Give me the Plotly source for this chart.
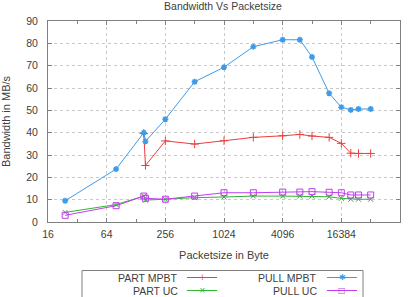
import plotly.graph_objects as go

sizes = [24, 80, 154, 160, 256, 512, 1024, 2048, 4096, 6144, 8192, 12288, 16384, 20480, 24576, 32768]
part_mpbt_x = [154, 160, 256, 512, 1024, 2048, 4096, 6144, 8192, 12288, 16384, 20480, 24576, 32768]
part_mpbt = [39.6, 25.3, 36.3, 34.9, 36.4, 37.9, 38.6, 39.2, 38.5, 37.9, 35.2, 30.8, 30.7, 30.7]
pull_mpbt = [9.5, 23.7, 40.0, 36.1, 46.0, 62.8, 69.3, 78.5, 81.6, 81.6, 73.9, 57.6, 51.4, 50.2, 50.6, 50.6]
part_uc = [4.3, 7.8, 11.6, 9.8, 10.2, 10.9, 11.2, 11.6, 11.6, 11.6, 11.6, 11.3, 10.6, 10.2, 10.2, 10.2]
pull_uc = [3.0, 7.3, 11.6, 10.6, 10.2, 11.6, 13.1, 13.1, 13.4, 13.4, 13.6, 13.3, 13.1, 12.1, 12.1, 12.1]

series_names = ["PART MPBT", "PULL MPBT", "PART UC", "PULL UC"]

x_ticks = [16, 64, 256, 1024, 4096, 16384, 65536]
x_minor = [32, 128, 512, 2048, 8192, 32768]
y_ticks = [0, 10, 20, 30, 40, 50, 60, 70, 80, 90]

RED = "#f03c3c"
GREEN = "#2fb52f"
BLUE = "#3d9be9"
MAGENTA = "#c23cf0"
FONT = "Liberation Sans, Arial, sans-serif"
TXT = "#404040"

W, H = 413, 297
ML, MR, MT, MB = 48, 13, 21, 75
PW, PH = W - ML - MR, H - MT - MB


def px(x):
    return (x - ML) / PW


def py(y):
    return (H - MB - y) / PH


styles = {
    "PART MPBT": dict(color=RED, symbol="cross-thin", size=6, lw=1, glyph="+"),
    "PULL MPBT": dict(color=BLUE, symbol="asterisk", size=5, lw=1.5, glyph="✱"),
    "PART UC": dict(color=GREEN, symbol="x-thin", size=5, lw=1, glyph="×"),
    "PULL UC": dict(color=MAGENTA, symbol="square-open", size=6, lw=1, glyph="□"),
}
data = {
    "PART MPBT": (part_mpbt_x, part_mpbt),
    "PULL MPBT": (sizes, pull_mpbt),
    "PART UC": (sizes, part_uc),
    "PULL UC": (sizes, pull_uc),
}

fig = go.Figure()
for name in series_names:
    s = styles[name]
    xs, ys = data[name]
    fig.add_trace(go.Scatter(x=xs, y=ys, name=name, mode="lines+markers", showlegend=False,
                             line=dict(color=s["color"], width=1),
                             marker=dict(symbol=s["symbol"], size=s["size"],
                                         line=dict(color=s["color"], width=s["lw"]))))

axis_common = dict(showline=True, linecolor="#808080", linewidth=1, mirror="ticks",
                   ticks="inside", ticklen=4, tickcolor="#808080",
                   showgrid=True, gridcolor="#c8c8c8", griddash="dot", gridwidth=1,
                   zeroline=False, tickfont=dict(family=FONT, size=10.5, color=TXT))

fig.update_xaxes(type="log", range=[1.20412, 4.81648], tickvals=x_ticks,
                 ticktext=[str(v) for v in x_ticks], ticklabelstandoff=2,
                 minor=dict(tickvals=x_minor, ticks="inside", ticklen=3, tickcolor="#808080", showgrid=False),
                 title=dict(text="Packetsize in Byte", font=dict(family=FONT, size=11, color=TXT), standoff=12),
                 **axis_common)
fig.update_yaxes(range=[0, 90], tickvals=y_ticks, ticklabelstandoff=7,
                 title=dict(text="Bandwidth in MB/s", font=dict(family=FONT, size=11, color=TXT), standoff=14),
                 **axis_common)

# gnuplot-style key: label, then line sample with marker
shapes = [dict(type="rect", xref="paper", yref="paper", x0=px(82), x1=px(363), y0=py(300), y1=py(270.5),
               line=dict(color="#808080", width=1), fillcolor="white", layer="above")]
annotations = []
key_rows = [277.5, 290.5]
key_cols = [(180, 187, 217), (319, 327, 357)]
for i, name in enumerate(series_names):
    s = styles[name]
    row = key_rows[i // 2]
    lab_right, l0, l1 = key_cols[i % 2]
    annotations.append(dict(text=name, xref="paper", yref="paper", x=px(lab_right), y=py(row),
                            xanchor="right", yanchor="middle", showarrow=False,
                            font=dict(family=FONT, size=10.5, color=TXT)))
    shapes.append(dict(type="line", xref="paper", yref="paper", x0=px(l0), x1=px(l1), y0=py(row), y1=py(row),
                       line=dict(color=s["color"], width=1), layer="above"))
    annotations.append(dict(text=s["glyph"], xref="paper", yref="paper", x=px((l0 + l1) / 2), y=py(row),
                            xanchor="center", yanchor="middle", showarrow=False,
                            font=dict(family="DejaVu Sans", size=8, color=s["color"])))

fig.update_layout(
    width=W, height=H,
    margin=dict(l=ML, r=MR, t=MT, b=MB, autoexpand=False),
    paper_bgcolor="white", plot_bgcolor="white",
    title=dict(text="Bandwidth Vs Packetsize", x=0.54, xanchor="center", y=1 - 6.5 / H, yanchor="middle",
               pad=dict(t=0, b=0), font=dict(family=FONT, size=10.5, color=TXT)),
    showlegend=False,
    shapes=shapes,
    annotations=annotations,
)

fig.write_html("out.html")
